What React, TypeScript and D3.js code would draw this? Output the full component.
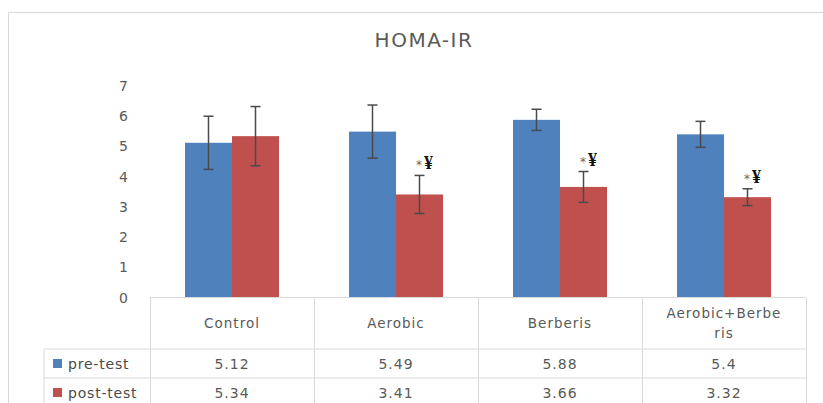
import React from "react";
import * as d3 from "d3";

const categories = ["Control", "Aerobic", "Berberis", "Aerobic+Berberis"];
const categoryLines = [["Control"], ["Aerobic"], ["Berberis"], ["Aerobic+Berbe", "ris"]];
const seriesNames = ["pre-test", "post-test"];
const preTest = [5.12, 5.49, 5.88, 5.4];
const postTest = [5.34, 3.41, 3.66, 3.32];
const preSD = [0.88, 0.88, 0.35, 0.43];
const postSD = [0.98, 0.63, 0.51, 0.28];
const postMarks = ["", "*¥", "*¥", "*¥"];
const yTicks = [0, 1, 2, 3, 4, 5, 6, 7];
const valueLabels = [["5.12", "5.49", "5.88", "5.4"], ["5.34", "3.41", "3.66", "3.32"]];

const W = 823;
const H = 403;
const COLORS = ["#4F81BD", "#C0504D"];
const GRID = "#d9d9d9";
const TEXT = "#595959";
const FONT = "'DejaVu Sans', Verdana, sans-serif";

export default function App() {
  const plotLeft = 150;
  const plotRight = 806;
  const y = d3.scaleLinear().domain([0, 7]).range([297.5, 86]);
  const x0 = d3.scaleBand<string>().domain(categories).range([plotLeft, plotRight]).padding(0);
  const x1 = d3.scaleBand<string>().domain(seriesNames).range([35, 129]).padding(0);

  const tableTop = y(0);
  const headerBottom = 349;
  const row1Bottom = 378;
  const tableBottom = 407;
  const legendLeft = 44;
  const rowCenters = [(headerBottom + row1Bottom) / 2, (row1Bottom + tableBottom) / 2];

  const series = [preTest, postTest];
  const sds = [preSD, postSD];

  return (
    <svg
      width={W}
      height={H}
      style={{ position: "absolute", left: 0, top: 0, background: "#fff" }}
      fontFamily={FONT}
    >
      <rect x={0} y={0} width={W} height={H} fill="#fff" />
      {/* chart outer border */}
      <path d={`M8.5,${H + 5} V12.5 H${W + 5}`} fill="none" stroke={GRID} strokeWidth={1} />

      {/* title */}
      <text x={424} y={47} textAnchor="middle" fontSize={20} letterSpacing={1.5} fill={TEXT}>
        HOMA-IR
      </text>

      {/* y tick labels */}
      {yTicks.map((t) => (
        <text key={t} x={128} y={y(t)} dy="0.36em" textAnchor="end" fontSize={14} fill={TEXT}>
          {t}
        </text>
      ))}

      {/* bars */}
      {series.map((vals, si) =>
        vals.map((v, ci) => {
          const bx = (x0(categories[ci]) as number) + (x1(seriesNames[si]) as number);
          return (
            <rect
              key={`b${si}-${ci}`}
              x={bx}
              y={y(v)}
              width={x1.bandwidth()}
              height={y(0) - y(v)}
              fill={COLORS[si]}
            />
          );
        })
      )}

      {/* error bars */}
      {series.map((vals, si) =>
        vals.map((v, ci) => {
          const cx = (x0(categories[ci]) as number) + (x1(seriesNames[si]) as number) + x1.bandwidth() / 2;
          const top = y(v + sds[si][ci]);
          const bot = y(v - sds[si][ci]);
          return (
            <g key={`e${si}-${ci}`} stroke="#4a4a4a" strokeWidth={1.5}>
              <line x1={cx} x2={cx} y1={top} y2={bot} />
              <line x1={cx - 5} x2={cx + 5} y1={top} y2={top} />
              <line x1={cx - 5} x2={cx + 5} y1={bot} y2={bot} />
            </g>
          );
        })
      )}

      {/* significance marks */}
      {postMarks.map((m, ci) => {
        if (!m) return null;
        const cx = (x0(categories[ci]) as number) + (x1(seriesNames[1]) as number) + x1.bandwidth() / 2;
        const top = y(postTest[ci] + postSD[ci]);
        return (
          <text key={`m${ci}`} x={cx + 5} y={top - 6} textAnchor="middle">
            <tspan fontSize={12} fill="#666">{m[0]}</tspan>
            <tspan fontSize={18} fontWeight="bold" fill="#111" fontFamily="'Liberation Serif', serif" dx={2}>
              {m.slice(1)}
            </tspan>
          </text>
        );
      })}

      {/* table */}
      <g stroke={GRID} strokeWidth={1} fill="none">
        <line x1={plotLeft} x2={plotRight} y1={tableTop} y2={tableTop} />
        <line x1={legendLeft} x2={plotRight} y1={headerBottom} y2={headerBottom} />
        <line x1={legendLeft} x2={plotRight} y1={row1Bottom} y2={row1Bottom} />
        <line x1={legendLeft} x2={plotRight} y1={tableBottom} y2={tableBottom} />
        <line x1={legendLeft} x2={legendLeft} y1={headerBottom} y2={tableBottom} />
        {categories.map((c) => (
          <line key={`v${c}`} x1={(x0(c) as number) + 0.5} x2={(x0(c) as number) + 0.5} y1={tableTop} y2={tableBottom} />
        ))}
        <line x1={plotRight + 0.5} x2={plotRight + 0.5} y1={tableTop} y2={tableBottom} />
      </g>

      {/* category headers */}
      {categories.map((c, ci) => {
        const cx = (x0(c) as number) + x0.bandwidth() / 2;
        const lines = categoryLines[ci];
        const mid = (tableTop + headerBottom) / 2;
        return lines.map((ln, li) => (
          <text
            key={`h${ci}-${li}`}
            x={cx}
            y={mid + (li - (lines.length - 1) / 2) * 20}
            dy="0.36em"
            textAnchor="middle"
            fontSize={13.5}
            letterSpacing={1}
            fill={TEXT}
          >
            {ln}
          </text>
        ));
      })}

      {/* legend rows and values */}
      {seriesNames.map((s, si) => (
        <g key={`r${s}`}>
          <rect x={53} y={rowCenters[si] - 4.5} width={9} height={9} fill={COLORS[si]} />
          <text x={68} y={rowCenters[si]} dy="0.36em" fontSize={14} letterSpacing={0.8} fill="#4a4a4a">
            {s}
          </text>
          {categories.map((c, ci) => (
            <text
              key={`val${si}-${ci}`}
              x={(x0(c) as number) + x0.bandwidth() / 2}
              y={rowCenters[si]}
              dy="0.36em"
              textAnchor="middle"
              fontSize={14}
              letterSpacing={1}
              fill={TEXT}
            >
              {valueLabels[si][ci]}
            </text>
          ))}
        </g>
      ))}
    </svg>
  );
}
